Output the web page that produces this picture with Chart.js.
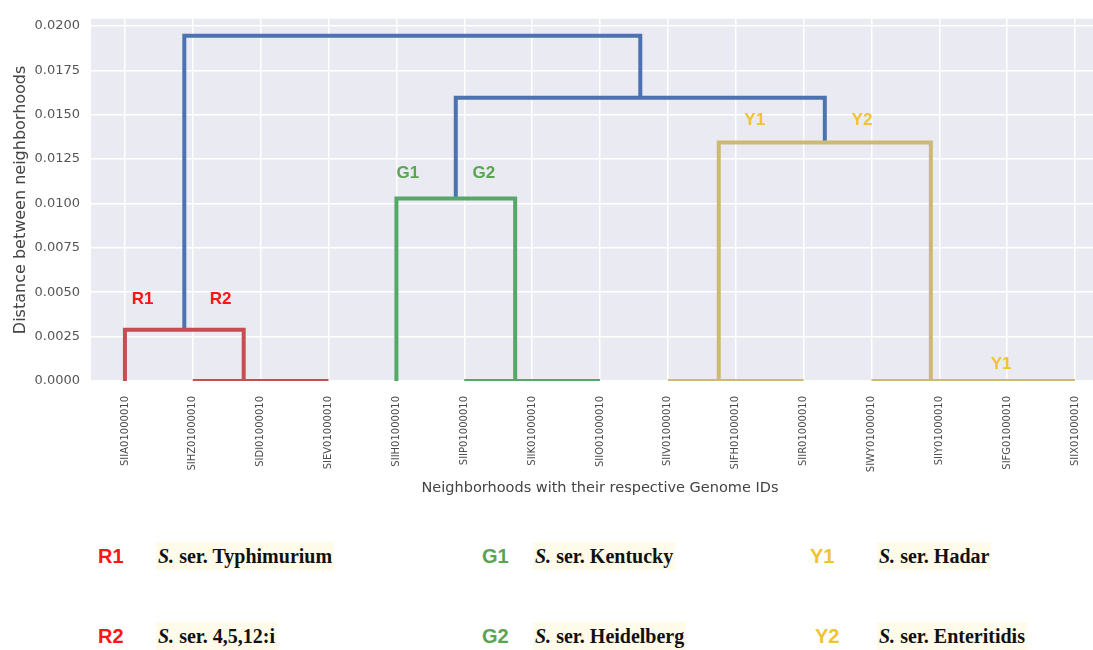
<!DOCTYPE html>
<html>
<head>
<meta charset="utf-8">
<script src="https://cdn.jsdelivr.net/npm/chart.js@4.4.1/dist/chart.umd.min.js"></script>
<style>
  html, body { margin: 0; padding: 0; background: #ffffff; overflow: hidden; width: 1093px; height: 650px; }
  #plot { position: absolute; left: 0; top: 0; width: 1110px; height: 505px; }
  .key { position: absolute; height: 28px; line-height: 28px; white-space: nowrap; }
  .code { font-family: "Liberation Sans", Arial, sans-serif; font-weight: bold; font-size: 20px; }
  .name { font-family: "Liberation Serif", "Times New Roman", serif; font-weight: bold; font-size: 20px;
          color: #111111; background: #fefbea; padding: 0 2px; }
</style>
</head>
<body>
<div id="plot"><canvas id="dendro"></canvas></div>
<div id="legend"></div>
<script>
// Leaves in dendrogram order
const leafLabels = [
  'SIIA01000010', 'SIHZ01000010', 'SIDI01000010', 'SIEV01000010', 'SIIH01000010',
  'SIIP01000010', 'SIIK01000010', 'SIIO01000010', 'SIIV01000010', 'SIFH01000010',
  'SIIR01000010', 'SIWY01000010', 'SIIY01000010', 'SIFG01000010', 'SIIX01000010'
];

// Linkage: ids 0-14 are leaves, merge k creates node 15 + k
const mergeLeft   = [2, 1, 0, 6, 5, 4, 9, 8, 13, 12, 11, 22, 20, 17];
const mergeRight  = [3, 15, 16, 7, 18, 19, 10, 21, 14, 23, 24, 25, 26, 27];
const mergeHeight = [0, 0, 0.00288, 0, 0, 0.01028, 0, 0, 0, 0, 0, 0.01343, 0.01596, 0.01944];
const mergeGroup  = ['R', 'R', 'R', 'G', 'G', 'G', 'Y', 'Y', 'Y', 'Y', 'Y', 'Y', 'B', 'B'];

const yTickValues = [0, 0.0025, 0.005, 0.0075, 0.01, 0.0125, 0.015, 0.0175, 0.02];

// Cluster tags written inside the plot (x in leaf units, y in distance)
const tagText  = ['R1', 'R2', 'G1', 'G2', 'Y1', 'Y2', 'Y1'];
const tagGroup = ['R', 'R', 'G', 'G', 'Y', 'Y', 'Y'];
const tagX     = [7.6, 19.1, 46.7, 57.9, 97.8, 113.6, 134.1];
const tagY     = [0.00461, 0.00461, 0.01169, 0.01169, 0.01466, 0.01466, 0.00096];

// Serovar key below the plot
const keyCodes  = ['R1', 'R2', 'G1', 'G2', 'Y1', 'Y2'];
const keyGroups = ['R', 'R', 'G', 'G', 'Y', 'Y'];
const keyNames  = ['Typhimurium', '4,5,12:i', 'Kentucky', 'Heidelberg', 'Hadar', 'Enteritidis'];

const linkColors = { R: '#c44e52', G: '#55a868', Y: '#ccb974', B: '#4c72b0' };
const tagColors  = { R: '#ff1414', G: '#5ba552', Y: '#f2c232' };

// Build the dendrogram links
const nodeX = leafLabels.map((_, i) => 5 + 10 * i);
const nodeH = leafLabels.map(() => 0);
const datasets = [];
mergeLeft.forEach((a, k) => {
  const b = mergeRight[k];
  const h = mergeHeight[k];
  datasets.push({
    data: [
      { x: nodeX[a], y: nodeH[a] },
      { x: nodeX[a], y: h },
      { x: nodeX[b], y: h },
      { x: nodeX[b], y: nodeH[b] }
    ],
    showLine: true,
    borderColor: linkColors[mergeGroup[k]],
    borderWidth: 4,
    pointRadius: 0,
    fill: false,
    clip: 0,
    tension: 0
  });
  nodeX.push((nodeX[a] + nodeX[b]) / 2);
  nodeH.push(h);
});

const tagPlugin = {
  id: 'clusterTags',
  afterDatasetsDraw(chart) {
    const { ctx, scales: { x, y } } = chart;
    ctx.save();
    ctx.font = 'bold 17px "Liberation Sans", Arial, sans-serif';
    ctx.textAlign = 'center';
    ctx.textBaseline = 'middle';
    tagText.forEach((t, i) => {
      ctx.fillStyle = tagColors[tagGroup[i]];
      ctx.fillText(t, x.getPixelForValue(tagX[i]), y.getPixelForValue(tagY[i]));
    });
    ctx.restore();
  }
};

const bgPlugin = {
  id: 'plotBackground',
  beforeDraw(chart) {
    const { ctx, chartArea: a } = chart;
    ctx.save();
    ctx.fillStyle = '#eaeaf2';
    ctx.fillRect(a.left, a.top, a.right - a.left, a.bottom - a.top);
    ctx.restore();
  }
};

new Chart(document.getElementById('dendro'), {
  type: 'scatter',
  data: { datasets },
  plugins: [bgPlugin, tagPlugin],
  options: {
    responsive: true,
    maintainAspectRatio: false,
    animation: false,
    events: [],
    layout: { padding: { top: 18, right: 1, bottom: 0, left: 0 } },
    plugins: { legend: { display: false }, tooltip: { enabled: false } },
    scales: {
      x: {
        type: 'linear',
        min: 0,
        max: 150,
        afterFit(scale) { scale.height = 124; },
        afterBuildTicks(scale) { scale.ticks = leafLabels.map((_, i) => ({ value: 5 + 10 * i })); },
        border: { display: false },
        grid: { color: '#ffffff', lineWidth: 1.5, drawTicks: false },
        ticks: {
          autoSkip: false,
          minRotation: 90,
          maxRotation: 90,
          padding: 15,
          color: '#4a4a4a',
          font: { family: '"DejaVu Sans", sans-serif', size: 10 },
          callback: (v) => leafLabels[Math.round((v - 5) / 10)]
        },
        title: {
          display: true,
          text: 'Neighborhoods with their respective Genome IDs',
          color: '#444444',
          font: { family: '"DejaVu Sans", sans-serif', size: 14.5 },
          padding: { top: 0, bottom: 8 }
        }
      },
      y: {
        min: 0,
        max: 0.0204,
        afterFit(scale) { scale.width = 91; },
        afterBuildTicks(scale) { scale.ticks = yTickValues.map(v => ({ value: v })); },
        border: { display: false },
        grid: { color: '#ffffff', lineWidth: 1.5, drawTicks: false },
        ticks: {
          padding: 11,
          color: '#555555',
          font: { family: '"DejaVu Sans", sans-serif', size: 13 },
          callback: (v) => Number(v).toFixed(4)
        },
        title: {
          display: true,
          text: 'Distance between neighborhoods',
          color: '#444444',
          font: { family: '"DejaVu Sans", sans-serif', size: 16 },
          padding: { top: 11, bottom: 0 }
        }
      }
    }
  }
});

// Serovar key
const keyLeft = [[98, 156], [98, 156], [482, 533], [482, 533], [810, 877], [815, 877]];
const keyTop = [542, 622, 542, 622, 542, 622];
const legend = document.getElementById('legend');
keyCodes.forEach((c, i) => {
  const code = document.createElement('div');
  code.className = 'key code';
  code.style.left = keyLeft[i][0] + 'px';
  code.style.top = keyTop[i] + 'px';
  code.style.color = tagColors[keyGroups[i]];
  code.textContent = c;
  legend.appendChild(code);
  const name = document.createElement('div');
  name.className = 'key name';
  name.style.left = keyLeft[i][1] + 'px';
  name.style.top = keyTop[i] + 'px';
  name.innerHTML = '<i>S.</i> ser. ' + keyNames[i];
  legend.appendChild(name);
});
</script>
</body>
</html>
